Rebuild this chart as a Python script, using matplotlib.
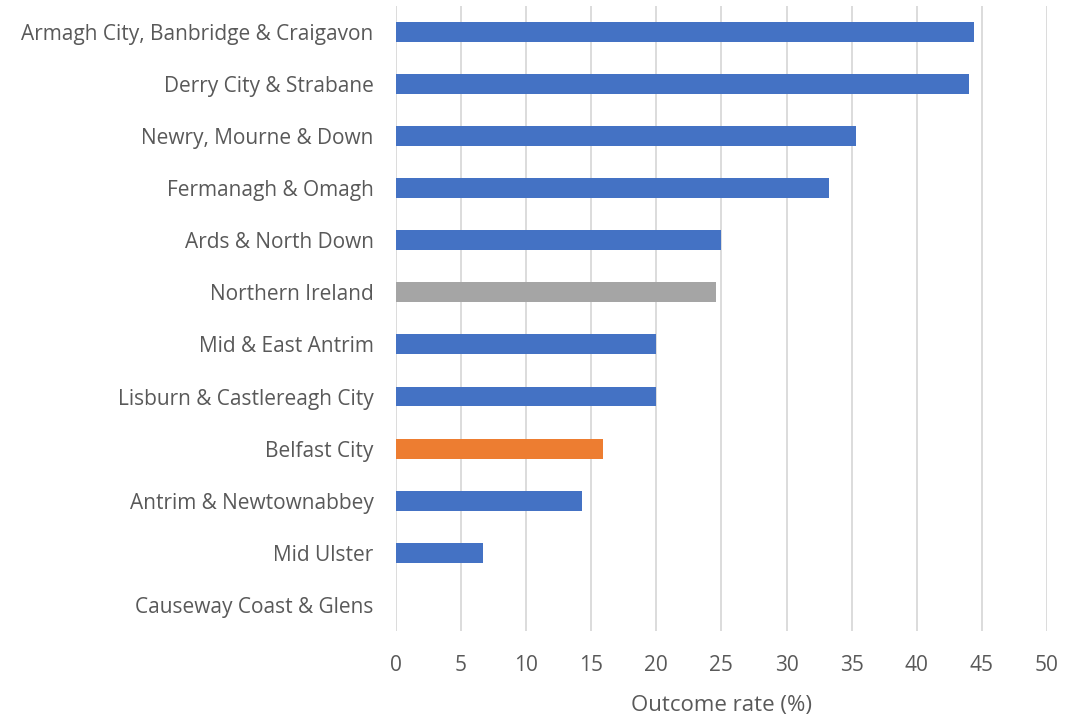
import matplotlib.pyplot as plt

# areas, top to bottom as in the chart
areas = ["Armagh City, Banbridge & Craigavon", "Derry City & Strabane",
         "Newry, Mourne & Down", "Fermanagh & Omagh", "Ards & North Down",
         "Northern Ireland", "Mid & East Antrim", "Lisburn & Castlereagh City",
         "Belfast City", "Antrim & Newtownabbey", "Mid Ulster",
         "Causeway Coast & Glens"]
rates = [44.4, 44.0, 35.3, 33.3, 25.0, 24.6, 20.0, 20.0, 15.9, 14.3, 6.7, 0.0]
xticks = [0, 5, 10, 15, 20, 25, 30, 35, 40, 45, 50]

colors = []
for a in areas:
    if a == "Northern Ireland":
        colors.append("#A5A5A5")
    elif a == "Belfast City":
        colors.append("#ED7D31")
    else:
        colors.append("#4472C4")

plt.rcParams['font.family'] = ['Open Sans', 'DejaVu Sans']

fig = plt.figure(figsize=(10.86, 7.17), dpi=100)
ax = fig.add_axes([0.3646, 0.12, 0.5994, 0.872])

y = list(range(len(areas)))[::-1]
ax.barh(y, rates, height=0.38, color=colors, zorder=3)

ax.set_xlim(0, 50)
ax.set_ylim(-0.5, len(areas) - 0.5)
ax.set_xticks(xticks)
ax.set_yticks(y)
ax.set_yticklabels(areas)
ax.xaxis.grid(True, color="#D9D9D9", linewidth=1.3, zorder=0)
ax.tick_params(axis='both', length=0, labelsize=15, colors="#595959")
ax.tick_params(axis='y', pad=16)
ax.tick_params(axis='x', pad=17)
for s in ax.spines.values():
    s.set_visible(False)
ax.set_xlabel("Outcome rate (%)", fontsize=16, color="#595959", labelpad=14)

fig.savefig("out.png", dpi=100)
